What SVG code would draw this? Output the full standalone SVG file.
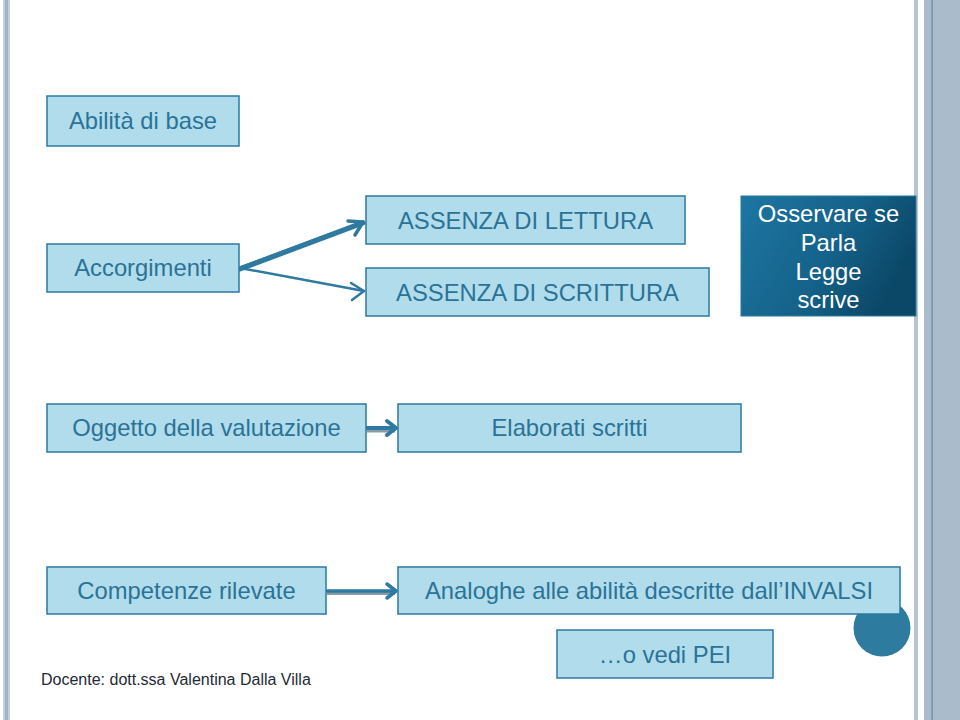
<svg xmlns="http://www.w3.org/2000/svg" width="960" height="720" viewBox="0 0 960 720">
<style>
.box{fill:#b1dcec;stroke:#2b7aa0;stroke-width:1.5}
.t{font-family:"Liberation Sans",Arial,sans-serif;font-size:23.8px;fill:#2a7396;text-anchor:middle}
.w{font-family:"Liberation Sans",Arial,sans-serif;font-size:23.8px;fill:#ffffff;text-anchor:middle}
.c{fill:none;stroke:#2e7aa0;stroke-linecap:round;stroke-linejoin:round}
</style>
<defs>
<linearGradient id="g" x1="0" y1="0" x2="1" y2="0.4">
<stop offset="0" stop-color="#1d76a2"/>
<stop offset="0.6" stop-color="#15628a"/>
<stop offset="1" stop-color="#0b4868"/>
</linearGradient>
</defs>
<rect width="960" height="720" fill="#ffffff"/>
<g id="frame">
<rect x="3" y="0" width="7" height="720" fill="#c4d0dc"/>
<rect x="5" y="0" width="3" height="720" fill="#9fb2c6"/>
<rect x="914" y="0" width="4" height="720" fill="#b6c5d2"/>
<rect x="924" y="0" width="36" height="720" fill="#aabccb"/>
<rect x="931.5" y="0" width="1.2" height="720" fill="#5f87a3"/>
<circle cx="882" cy="628" r="28.5" fill="#2e7ba0"/>
</g>
<g id="connectors">
<line x1="240" y1="269" x2="363" y2="223" class="c" stroke="#8a7a8c" stroke-width="5"/>
<line x1="240" y1="268" x2="363" y2="222" class="c" stroke-width="3.5"/>
<polyline points="348,221 363,222 355,235" class="c" stroke-width="3.5"/>
<line x1="240" y1="268" x2="364" y2="291" class="c" stroke-width="2.5"/>
<polyline points="351,283 364,291 352,300" class="c" stroke-width="2.5"/>
<line x1="367" y1="430" x2="395" y2="430" stroke="#8a9aa8" stroke-width="5"/>
<line x1="367" y1="428" x2="395" y2="428" class="c" stroke-width="4"/>
<polyline points="387,421 396,428 387,435" class="c" stroke-width="4"/>
<line x1="327" y1="593" x2="395" y2="593" stroke="#8a9aa8" stroke-width="4"/>
<line x1="327" y1="591" x2="395" y2="591" class="c" stroke-width="3.5"/>
<polyline points="387,584 396,591 387,598" class="c" stroke-width="3.5"/>
</g>
<g id="n-abilita">
<rect class="box" x="47" y="96" width="192" height="50"/>
<text class="t" x="143" y="129">Abilità di base</text>
</g>
<g id="n-accorgimenti">
<rect class="box" x="47" y="244" width="192" height="48"/>
<text class="t" x="143" y="276">Accorgimenti</text>
</g>
<g id="n-lettura">
<rect class="box" x="366" y="196" width="319" height="48"/>
<text class="t" x="525.5" y="229">ASSENZA DI LETTURA</text>
</g>
<g id="n-scrittura">
<rect class="box" x="366" y="268" width="343" height="48"/>
<text class="t" x="537.5" y="301">ASSENZA DI SCRITTURA</text>
</g>
<g id="n-osservare">
<rect x="741" y="196" width="175" height="120" fill="url(#g)" stroke="#2b7aa0" stroke-width="1"/>
<text class="w" x="828.5" y="222">Osservare se</text>
<text class="w" x="828.5" y="251">Parla</text>
<text class="w" x="828.5" y="280">Legge</text>
<text class="w" x="828.5" y="308">scrive</text>
</g>
<g id="n-oggetto">
<rect class="box" x="47" y="404" width="319" height="48"/>
<text class="t" x="206.5" y="436">Oggetto della valutazione</text>
</g>
<g id="n-elaborati">
<rect class="box" x="398" y="404" width="343" height="48"/>
<text class="t" x="569.5" y="436">Elaborati scritti</text>
</g>
<g id="n-competenze">
<rect class="box" x="47" y="567" width="279" height="47"/>
<text class="t" x="186.5" y="599">Competenze rilevate</text>
</g>
<g id="n-analoghe">
<rect class="box" x="398" y="567" width="502" height="47"/>
<text class="t" x="649" y="599">Analoghe alle abilità descritte dall’INVALSI</text>
</g>
<g id="n-pei">
<rect class="box" x="557" y="630" width="216" height="48"/>
<text class="t" x="665" y="663">…o vedi PEI</text>
</g>
<text x="41" y="685" font-family="'Liberation Sans',Arial,sans-serif" font-size="16" fill="#1f2a36">Docente: dott.ssa Valentina Dalla Villa</text>
</svg>
